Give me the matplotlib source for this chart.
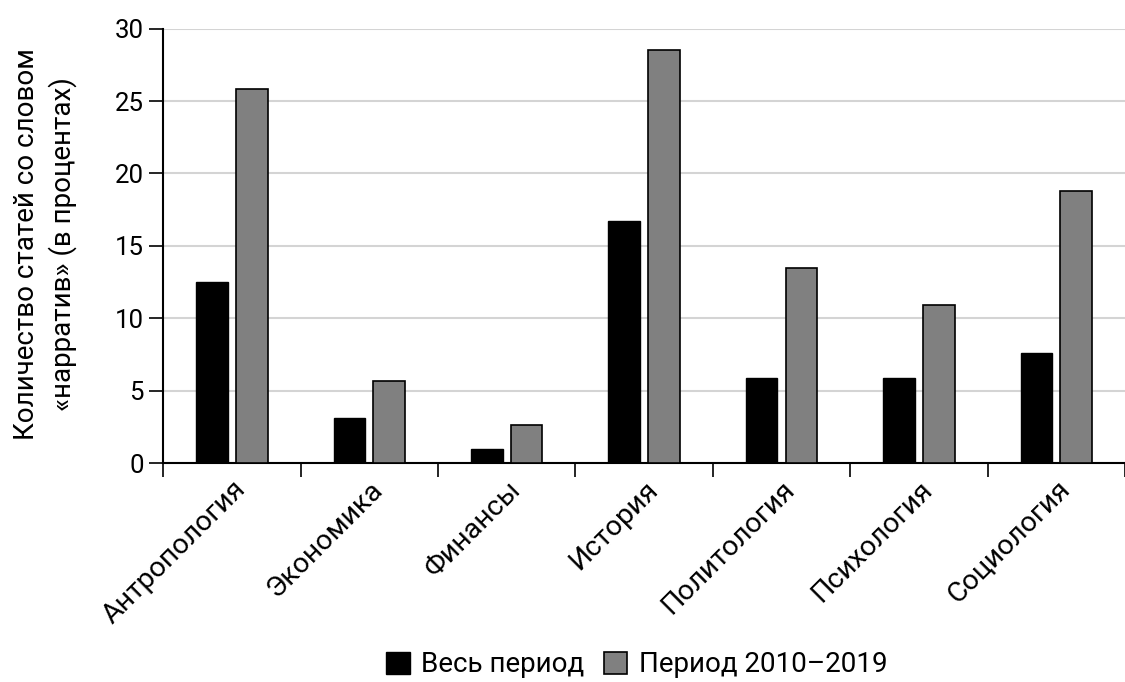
import numpy as np
import matplotlib.pyplot as plt

plt.rcParams['font.family'] = ['Roboto', 'DejaVu Sans']

# Data
fields = ['Антропология', 'Экономика', 'Финансы', 'История',
          'Политология', 'Психология', 'Социология']
whole_period = [12.5, 3.1, 1.0, 16.7, 5.9, 5.9, 7.6]
period_2010_2019 = [25.8, 5.7, 2.6, 28.5, 13.5, 10.9, 18.8]
series_names = ['Весь период', 'Период 2010–2019']

fig = plt.figure(figsize=(11.25, 6.82), dpi=100)
ax = fig.add_axes([0.145, 0.321, 0.855, 0.637])

x = np.arange(len(fields))
w = 0.23
off = 0.145
ax.bar(x - off, whole_period, w, color='black', edgecolor='black',
       linewidth=1, label=series_names[0], zorder=3)
ax.bar(x + off, period_2010_2019, w, color='#808080', edgecolor='black',
       linewidth=1.2, label=series_names[1], zorder=3)

ax.set_ylim(0, 30)
ax.set_xlim(-0.5, 6.42)
ax.set_yticks(np.arange(0, 31, 5))
ax.yaxis.grid(True, color='#d4d4d4', linewidth=1.5, zorder=0)
ax.set_axisbelow(True)

# labels at category centers, ticks at the boundaries
ax.set_xticks(x)
ax.set_xticks(np.arange(-0.5, 6.6, 1), minor=True)
ax.set_xticklabels(fields, rotation=45, ha='right', rotation_mode='anchor',
                   fontsize=20.5)
ax.tick_params(axis='x', which='major', length=0, pad=9)
ax.tick_params(axis='x', which='minor', length=10, width=1.2, color='black')
ax.tick_params(axis='y', length=10, width=1.2, labelsize=18.5, pad=4)

for side in ['top', 'right']:
    ax.spines[side].set_visible(False)
ax.spines['left'].set_linewidth(1.5)
ax.spines['bottom'].set_linewidth(1.5)

fig.text(0.040, 0.642, 'Количество статей со словом\n«нарратив» (в процентах)',
         rotation=90, ha='center', va='center', multialignment='center',
         fontsize=20, linespacing=1.4)

fig.legend(loc='center', bbox_to_anchor=(0.566, 0.025), ncol=2, frameon=False,
           fontsize=20, handlelength=0.85, handleheight=0.85, handletextpad=0.4,
           columnspacing=0.7)

fig.savefig('out.png', dpi=100)
